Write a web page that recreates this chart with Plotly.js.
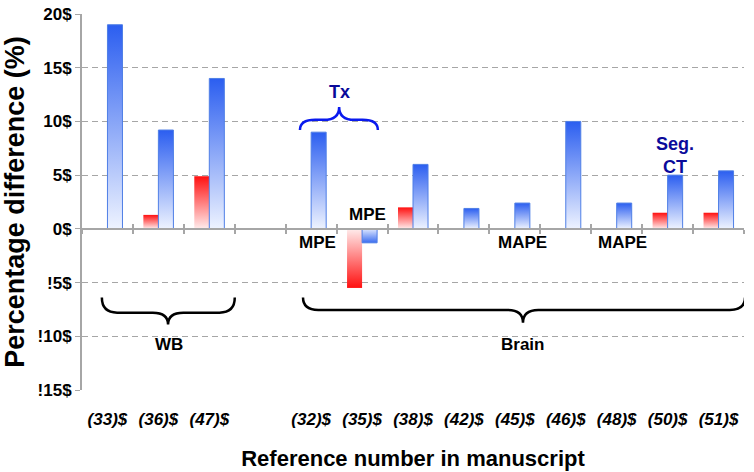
<!DOCTYPE html>
<html>
<head>
<meta charset="utf-8">
<script src="https://cdn.plot.ly/plotly-3.0.1.min.js"></script>
<style>
    html, body { margin: 0; padding: 0; background: #fff; }
    #chart { width: 754px; height: 472px; }
</style>
</head>
<body>
<div id="chart"></div>
<script>
// Data
const categories = ["(33)$", "(36)$", "(47)$", " ", "(32)$", "(35)$", "(38)$", "(42)$", "(45)$", "(46)$", "(48)$", "(50)$", "(51)$"];
const redValues = [null, 1.3, 4.9, null, null, -5.5, 2.0, null, null, null, null, 1.5, 1.5];
const blueValues = [19.0, 9.2, 14.0, null, 9.0, -1.3, 6.0, 1.9, 2.4, 10.0, 2.4, 5.0, 5.4];
const yTickValues = [20, 15, 10, 5, 0, -5, -10, -15];
const yTickLabels = ["20$", "15$", "10$", "5$", "0$", "!5$", "!10$", "!15$"];

const FONT = "Liberation Sans, Arial, sans-serif";
const GRAY = "#a6a6a6";
const NAVY = "#0a0a9a";

document.addEventListener("DOMContentLoaded", () => {
    renderChart();
});


// curly brace as an svg path, in category index / y units
function bracePath(x0, x1, xc, yEnd, yMid, yTip, r) {
    return `M${x0},${yEnd} Q${x0},${yMid} ${x0 + r},${yMid} ` +
        `L${xc - r},${yMid} Q${xc},${yMid} ${xc},${yTip} ` +
        `Q${xc},${yMid} ${xc + r},${yMid} ` +
        `L${x1 - r},${yMid} Q${x1},${yMid} ${x1},${yEnd}`;
}


function braceShape(path, color) {
    return {
        type: "path",
        xref: "x",
        yref: "y",
        path: path,
        line: { color: color, width: 2.5 }
    };
}


function note(text, x, y, color, size) {
    return {
        text: text,
        x: x,
        y: y,
        xref: "x",
        yref: "y",
        showarrow: false,
        font: { family: FONT, size: size || 17, weight: "bold", color: color || "#000" }
    };
}


// axis sitting on y = 0, ticks on the category boundaries
function zeroAxis(ticks, len, showline) {
    return {
        overlaying: "x",
        anchor: "free",
        position: 15 / 35,
        range: [-0.5, 12.5],
        tickmode: "linear",
        tick0: -0.5,
        dtick: 1,
        ticks: ticks,
        ticklen: len,
        tickcolor: GRAY,
        tickwidth: 1.5,
        showticklabels: false,
        showgrid: false,
        zeroline: false,
        showline: showline,
        linecolor: GRAY,
        linewidth: 2,
        fixedrange: true
    };
}


function renderChart() {
    const redTrace = {
        type: "bar",
        x: categories,
        y: redValues,
        name: "red",
        marker: { color: "#ff2020", line: { width: 0 } },
        hoverinfo: "x+y"
    };

    const blueTrace = {
        type: "bar",
        x: categories,
        y: blueValues,
        name: "blue",
        marker: { color: "#3a6cf0", line: { color: "#4f7fe6", width: 1 } },
        hoverinfo: "x+y"
    };

    // empty traces so the zero-line axes get a subplot
    const axisHolders = ["x2", "x3"].map(ax => ({
        type: "scatter",
        x: [],
        y: [],
        xaxis: ax,
        yaxis: "y",
        hoverinfo: "skip",
        showlegend: false
    }));

    const layout = {
        width: 754,
        height: 472,
        margin: { l: 82, r: 10, t: 14, b: 82 },
        paper_bgcolor: "#fff",
        plot_bgcolor: "#fff",
        showlegend: false,
        barmode: "group",
        bargap: 0.41,
        bargroupgap: 0,
        font: { family: FONT, color: "#000" },

        xaxis: {
            type: "category",
            categoryorder: "array",
            categoryarray: categories,
            range: [-0.5, 12.5],
            showgrid: false,
            zeroline: false,
            showline: false,
            ticks: "outside",
            ticklen: 14,
            tickcolor: "rgba(0,0,0,0)",
            tickfont: { family: FONT, size: 17, weight: "bold", style: "italic" },
            title: {
                text: "Reference number in manuscript",
                font: { family: FONT, size: 22, weight: "bold" },
                standoff: 22
            }
        },

        xaxis2: zeroAxis("outside", 4, true),
        xaxis3: zeroAxis("inside", 5, false),

        yaxis: {
            range: [-15, 20],
            tickmode: "array",
            tickvals: yTickValues,
            ticktext: yTickLabels,
            ticks: "outside",
            ticklen: 5,
            tickcolor: GRAY,
            showline: true,
            linecolor: GRAY,
            linewidth: 2,
            gridcolor: GRAY,
            griddash: "6px,4px",
            gridwidth: 1,
            zeroline: false,
            tickfont: { family: FONT, size: 17, weight: "bold" },
            title: {
                text: "Percentage difference (%)",
                font: { family: FONT, size: 27, weight: "bold" },
                standoff: 6
            }
        },

        shapes: [
            braceShape(bracePath(-0.11, 2.5, 1.19, -6.4, -7.8, -8.9, 0.3), "#000"),
            braceShape(bracePath(3.84, 12.52, 8.16, -6.4, -7.55, -8.75, 0.3), "#000"),
            braceShape(bracePath(3.78, 5.31, 4.55, 9.2, 10.15, 11.35, 0.3), "#0a1aee")
        ],

        annotations: [
            note("Tx", 4.55, 12.7, NAVY, 18),
            note("MPE", 4.12, -1.3),
            note("MPE", 5.1, 1.3),
            note("MAPE", 8.15, -1.3),
            note("MAPE", 10.12, -1.3),
            note("Seg.<br>CT", 11.15, 6.8, NAVY, 18),
            note("WB", 1.2, -10.8),
            note("Brain", 8.16, -10.8)
        ]
    };

    const gd = document.getElementById("chart");

    Plotly.newPlot(gd, [redTrace, blueTrace].concat(axisHolders), layout, { displayModeBar: false })
        .then(() => {
            applyGradients(gd);
            gd.on("plotly_afterplot", () => applyGradients(gd));
        });
}


function addGradient(defs, id, colorTop, colorBottom) {
    if (document.getElementById(id)) {
        return;
    }
    const ns = "http://www.w3.org/2000/svg";
    const grad = document.createElementNS(ns, "linearGradient");
    grad.setAttribute("id", id);
    grad.setAttribute("x1", "0");
    grad.setAttribute("y1", "0");
    grad.setAttribute("x2", "0");
    grad.setAttribute("y2", "1");

    [[0, colorTop], [1, colorBottom]].forEach(([offset, color]) => {
        const stop = document.createElementNS(ns, "stop");
        stop.setAttribute("offset", offset);
        stop.setAttribute("stop-color", color);
        grad.appendChild(stop);
    });

    defs.appendChild(grad);
}


// bars fade from the tip to a pale base, as in the original figure
function applyGradients(gd) {
    const svg = gd.querySelector(".main-svg");
    let defs = svg.querySelector("defs");
    if (!defs) {
        defs = document.createElementNS("http://www.w3.org/2000/svg", "defs");
        svg.insertBefore(defs, svg.firstChild);
    }

    addGradient(defs, "redUp", "#ff1010", "#ffecec");
    addGradient(defs, "redDown", "#ffecec", "#ff1010");
    addGradient(defs, "blueUp", "#2b5ef0", "#eef3ff");
    addGradient(defs, "blueDown", "#dfe8ff", "#3a6cf0");

    const names = ["red", "blue"];

    gd.querySelectorAll(".barlayer .trace").forEach((trace, t) => {
        trace.querySelectorAll(".point path").forEach(path => {
            const d = path.__data__ || path.parentNode.__data__;
            const negative = d && d.s < 0;
            path.style.fill = `url(#${names[t]}${negative ? "Down" : "Up"})`;
        });
    });
}
</script>
</body>
</html>
